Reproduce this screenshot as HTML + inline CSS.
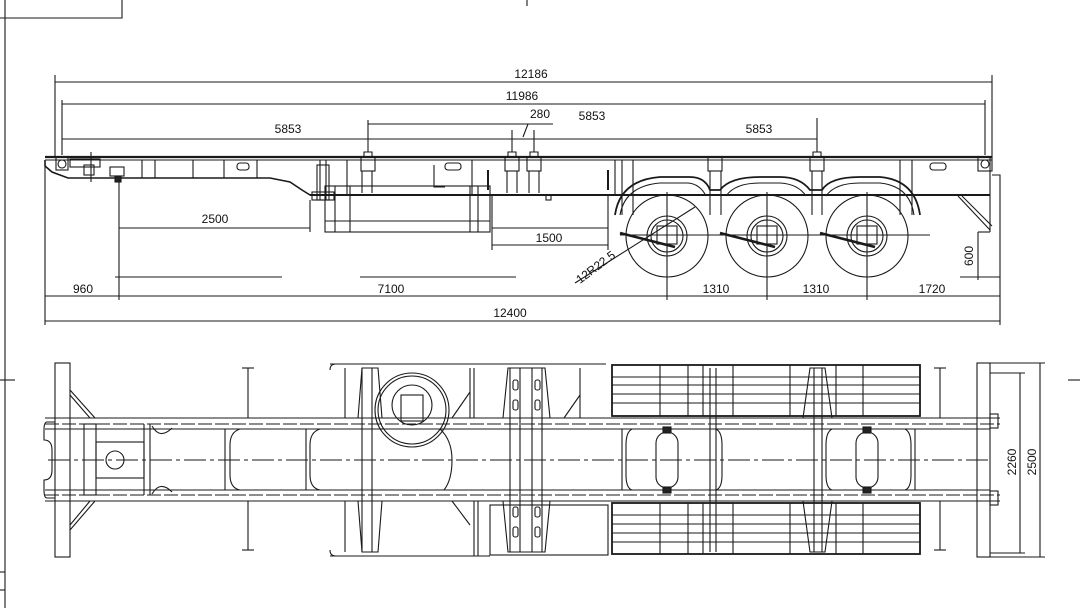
<!DOCTYPE html>
<html><head><meta charset="utf-8"><style>
html,body{margin:0;padding:0;background:#fff;}
svg{display:block}
text{font-family:"Liberation Sans",sans-serif;font-size:12px;fill:#111}
</style></head><body>
<svg width="1080" height="608" viewBox="0 0 1080 608" xmlns="http://www.w3.org/2000/svg">
<g stroke="#1a1a1a" fill="none" stroke-width="1.1">
<line x1="5" y1="0" x2="5" y2="608"/>
<polyline points="0,18 122,18 122,0"/>
<line x1="527" y1="0" x2="527" y2="6"/>
<line x1="0" y1="380" x2="15" y2="380"/>
<line x1="1068" y1="380" x2="1080" y2="380"/>
<polyline points="0,572 5,572"/><polyline points="0,590 5,590"/>

<line x1="55" y1="82" x2="992" y2="82"/>
<line x1="55" y1="75" x2="55" y2="158"/>
<line x1="992" y1="75" x2="992" y2="158"/>
<line x1="62" y1="104" x2="985" y2="104"/>
<line x1="62" y1="100" x2="62" y2="155"/>
<line x1="985" y1="100" x2="985" y2="155"/>
<line x1="368" y1="124" x2="528" y2="124"/>
<line x1="528" y1="124" x2="553" y2="124"/>
<line x1="528" y1="124" x2="523" y2="137"/>
<line x1="368" y1="120" x2="368" y2="152"/>
<line x1="512" y1="130" x2="512" y2="152"/>
<line x1="534" y1="130" x2="534" y2="152"/>
<line x1="62" y1="139" x2="817" y2="139"/>
<line x1="817" y1="118" x2="817" y2="152"/>

<line x1="45" y1="157" x2="992" y2="157" stroke-width="2.2"/>
<line x1="45" y1="160" x2="992" y2="160"/>
<polyline points="45,160 45,166 52,172 68,178 270,178 290,182 302,190 310,195 625,195" stroke-width="1.6"/>
<line x1="310" y1="195" x2="990" y2="195" stroke-width="2"/>
<line x1="45" y1="166" x2="45" y2="300"/>
<rect x="56" y="157" width="12" height="13"/><circle cx="62" cy="164" r="4"/>
<rect x="70" y="159" width="30" height="8"/>
<rect x="84" y="165" width="10" height="10"/>
<line x1="91" y1="152" x2="91" y2="182"/>
<rect x="110" y="167" width="14" height="9"/>
<rect x="115" y="176" width="6" height="6" fill="#222"/>
<line x1="142" y1="160" x2="142" y2="178"/>
<line x1="155" y1="160" x2="155" y2="178"/>
<line x1="193" y1="160" x2="193" y2="178"/>
<line x1="224" y1="160" x2="224" y2="178"/>
<line x1="257" y1="160" x2="257" y2="178"/>
<rect x="237" y="163" width="12" height="7" rx="3"/>
<rect x="317" y="165" width="12" height="35"/>
<rect x="312" y="192" width="22" height="8"/>
<line x1="320" y1="160" x2="320" y2="200"/><line x1="326" y1="160" x2="326" y2="200"/>
<rect x="325" y="186" width="165" height="46"/>
<line x1="325" y1="221" x2="490" y2="221"/>
<line x1="335" y1="186" x2="335" y2="232"/><line x1="350" y1="186" x2="350" y2="232"/>
<line x1="470" y1="186" x2="470" y2="232"/><line x1="478" y1="186" x2="478" y2="232"/>
<line x1="490" y1="195" x2="608" y2="195"/>
<line x1="347" y1="160" x2="347" y2="195"/><line x1="472" y1="160" x2="472" y2="195"/>
<line x1="615" y1="160" x2="615" y2="195"/>
<rect x="445" y="163" width="16" height="7" rx="3"/>
<polyline points="434,165 434,187 445,187"/>
<g>
<rect x="361" y="157" width="14" height="14"/><path d="M364,157 v-5 h8 v5"/><line x1="362" y1="171" x2="362" y2="193"/><line x1="372" y1="171" x2="372" y2="193"/>
<rect x="505" y="157" width="14" height="14"/><path d="M508,157 v-5 h8 v5"/><line x1="507" y1="171" x2="507" y2="193"/><line x1="517" y1="171" x2="517" y2="193"/>
<rect x="527" y="157" width="14" height="14"/><path d="M530,157 v-5 h8 v5"/><line x1="529" y1="171" x2="529" y2="193"/><line x1="539" y1="171" x2="539" y2="193"/>
<rect x="810" y="157" width="14" height="14"/><path d="M813,157 v-5 h8 v5"/><line x1="812" y1="171" x2="812" y2="215"/><line x1="822" y1="171" x2="822" y2="215"/>
<rect x="978" y="157" width="14" height="14"/><circle cx="985" cy="164" r="4"/>
<rect x="708" y="157" width="14" height="14"/><line x1="710" y1="171" x2="710" y2="215"/><line x1="721" y1="171" x2="721" y2="215"/>
</g>
<line x1="488" y1="170" x2="488" y2="190" stroke-width="2"/>
<line x1="608" y1="170" x2="608" y2="190" stroke-width="2"/>
<rect x="546" y="195" width="5" height="5"/>
<line x1="119" y1="228" x2="310" y2="228"/>
<line x1="119" y1="180" x2="119" y2="300"/>
<line x1="310" y1="200" x2="310" y2="232"/>
<line x1="492" y1="228" x2="608" y2="228"/>
<line x1="492" y1="245" x2="608" y2="245"/>
<line x1="492" y1="195" x2="492" y2="250"/>
<line x1="608" y1="195" x2="608" y2="250"/>
<line x1="115" y1="277" x2="282" y2="277"/>
<line x1="360" y1="277" x2="516" y2="277"/>
<path d="M615,215 Q620,180 660,177 L690,177 Q705,177 710,190 L720,190 Q730,177 760,177 L780,177 Q800,177 810,190 L822,190 Q830,177 860,177 L880,177 Q915,180 920,215" stroke-width="1.8"/>
<path d="M620,215 Q625,186 660,183 L688,183 Q700,184 706,196 M726,196 Q735,183 760,183 L780,183 Q798,184 806,196 M826,196 Q835,183 860,183 L880,183 Q910,186 914,215"/>
<line x1="622" y1="160" x2="622" y2="215"/><line x1="633" y1="160" x2="633" y2="215"/>
<line x1="900" y1="160" x2="900" y2="215"/><line x1="912" y1="160" x2="912" y2="215"/>
<circle cx="667" cy="236" r="41"/><circle cx="667" cy="236" r="20"/><circle cx="667" cy="236" r="16"/><rect x="657" y="226" width="20" height="18"/>
<circle cx="767" cy="236" r="41"/><circle cx="767" cy="236" r="20"/><circle cx="767" cy="236" r="16"/><rect x="757" y="226" width="20" height="18"/>
<circle cx="867" cy="236" r="41"/><circle cx="867" cy="236" r="20"/><circle cx="867" cy="236" r="16"/><rect x="857" y="226" width="20" height="18"/>
<line x1="620" y1="235" x2="930" y2="235"/>
<g stroke-width="2.5"><line x1="620" y1="233" x2="675" y2="247"/><line x1="720" y1="233" x2="775" y2="247"/><line x1="820" y1="233" x2="875" y2="247"/></g>
<line x1="667" y1="192" x2="667" y2="300"/><line x1="767" y1="192" x2="767" y2="300"/><line x1="867" y1="192" x2="867" y2="300"/>
<line x1="575" y1="283" x2="695" y2="207"/>
<line x1="990" y1="157" x2="990" y2="232"/>
<polyline points="992,175 1000,175 1000,325"/>
<line x1="958" y1="196" x2="990" y2="230"/><line x1="962" y1="196" x2="992" y2="226"/>
<rect x="930" y="163" width="16" height="7" rx="3"/>
<line x1="978" y1="232" x2="990" y2="232"/>
<line x1="978" y1="232" x2="978" y2="280"/>
<line x1="960" y1="277" x2="1000" y2="277"/>
<line x1="45" y1="296" x2="1000" y2="296"/>
<line x1="45" y1="321" x2="1000" y2="321"/>
<line x1="45" y1="300" x2="45" y2="325"/>

<rect x="55" y="363" width="15" height="194"/>
<line x1="45" y1="418" x2="1000" y2="418"/>
<line x1="45" y1="424" x2="1000" y2="424" stroke-dasharray="14 3"/>
<line x1="45" y1="429" x2="990" y2="429"/>
<line x1="45" y1="490" x2="990" y2="490"/>
<line x1="45" y1="495" x2="1000" y2="495" stroke-dasharray="14 3"/>
<line x1="45" y1="501" x2="1000" y2="501"/>
<line x1="48" y1="460" x2="990" y2="460" stroke-dasharray="22 4 4 4"/>
<path d="M55,422 h-8 q-3,0 -3,8 v10 q8,0 8,10 v20 q0,10 -8,10 v10 q0,8 3,8 h8"/>
<path d="M70,390 L95,418 M70,530 L95,501 M70,395 L90,418 M70,525 L90,501"/>
<rect x="84" y="424" width="12" height="71"/>
<rect x="96" y="442" width="48" height="36"/>
<circle cx="115" cy="460" r="9"/>
<line x1="144" y1="424" x2="144" y2="495"/><line x1="150" y1="424" x2="150" y2="495"/>
<path d="M152,426 Q160,440 172,428 M152,494 Q160,480 172,492"/>
<line x1="225" y1="429" x2="225" y2="490"/>
<path d="M240,429 Q230,432 230,445 L230,475 Q230,488 240,490"/>
<line x1="306" y1="429" x2="306" y2="490"/>
<path d="M320,429 Q310,432 310,445 L310,475 Q310,488 320,490"/>
<line x1="248" y1="368" x2="248" y2="418"/><line x1="242" y1="368" x2="254" y2="368"/>
<line x1="248" y1="501" x2="248" y2="550"/><line x1="242" y1="550" x2="254" y2="550"/>
<line x1="940" y1="368" x2="940" y2="418"/><line x1="934" y1="368" x2="946" y2="368"/>
<line x1="940" y1="501" x2="940" y2="550"/><line x1="934" y1="550" x2="946" y2="550"/>
<line x1="330" y1="364" x2="606" y2="364"/>
<line x1="330" y1="556" x2="490" y2="556"/>
<path d="M330,370 q0,-6 6,-6 M330,550 q0,6 6,6"/>
<line x1="345" y1="368" x2="345" y2="418"/><line x1="345" y1="501" x2="345" y2="552"/>
<path d="M358,418 L362,368 L378,368 L382,418 M358,501 L362,552 L378,552 L382,501"/>
<line x1="362" y1="368" x2="362" y2="552"/><line x1="372" y1="368" x2="372" y2="552"/>
<circle cx="412" cy="410" r="37"/><circle cx="412" cy="410" r="34"/>
<circle cx="412" cy="405" r="20"/><rect x="401" y="395" width="22" height="26"/>
<line x1="470" y1="368" x2="470" y2="418"/><line x1="474" y1="368" x2="474" y2="418"/>
<line x1="452" y1="418" x2="470" y2="392"/>
<line x1="452" y1="501" x2="470" y2="525"/>
<line x1="474" y1="501" x2="474" y2="556"/><line x1="478" y1="501" x2="478" y2="556"/>
<path d="M440,429 Q452,440 452,460 Q452,480 444,490"/>
<path d="M503,418 L508,368 L545,368 L550,418 M503,501 L508,552 L545,552 L550,501"/>
<line x1="510" y1="368" x2="510" y2="552"/><line x1="520" y1="368" x2="520" y2="552"/>
<line x1="532" y1="368" x2="532" y2="552"/><line x1="542" y1="368" x2="542" y2="552"/>
<rect x="513" y="380" width="5" height="10" rx="2"/><rect x="535" y="380" width="5" height="10" rx="2"/>
<rect x="513" y="400" width="5" height="10" rx="2"/><rect x="535" y="400" width="5" height="10" rx="2"/>
<rect x="513" y="507" width="5" height="10" rx="2"/><rect x="535" y="507" width="5" height="10" rx="2"/>
<rect x="513" y="527" width="5" height="10" rx="2"/><rect x="535" y="527" width="5" height="10" rx="2"/>
<line x1="580" y1="368" x2="580" y2="418"/><line x1="564" y1="418" x2="580" y2="395"/>
<rect x="490" y="505" width="118" height="50"/>
<g stroke-width="1.8">
<rect x="612" y="365" width="308" height="51"/><rect x="612" y="503" width="308" height="51"/>
</g>
<g>
<line x1="612" y1="377" x2="920" y2="377"/><line x1="612" y1="385" x2="920" y2="385"/><line x1="612" y1="394" x2="920" y2="394"/><line x1="612" y1="403" x2="920" y2="403"/>
<line x1="612" y1="515" x2="920" y2="515"/><line x1="612" y1="524" x2="920" y2="524"/><line x1="612" y1="533" x2="920" y2="533"/><line x1="612" y1="542" x2="920" y2="542"/>
<line x1="660" y1="365" x2="660" y2="416"/><line x1="688" y1="365" x2="688" y2="416"/><line x1="703" y1="365" x2="703" y2="416"/><line x1="733" y1="365" x2="733" y2="416"/><line x1="790" y1="365" x2="790" y2="416"/><line x1="836" y1="365" x2="836" y2="416"/><line x1="863" y1="365" x2="863" y2="416"/>
<line x1="660" y1="503" x2="660" y2="554"/><line x1="688" y1="503" x2="688" y2="554"/><line x1="703" y1="503" x2="703" y2="554"/><line x1="733" y1="503" x2="733" y2="554"/><line x1="790" y1="503" x2="790" y2="554"/><line x1="836" y1="503" x2="836" y2="554"/><line x1="863" y1="503" x2="863" y2="554"/>
</g>
<line x1="710" y1="368" x2="710" y2="552"/><line x1="716" y1="368" x2="716" y2="552"/>
<path d="M803,418 L810,368 L825,368 L832,418 M803,501 L810,552 L825,552 L832,501"/>
<line x1="814" y1="368" x2="814" y2="552"/><line x1="822" y1="368" x2="822" y2="552"/>
<line x1="622" y1="429" x2="622" y2="490"/>
<path d="M632,429 Q626,432 626,445 L626,475 Q626,488 632,490 M716,429 Q722,432 722,445 L722,475 Q722,488 716,490"/>
<path d="M905,429 Q911,432 911,445 L911,475 Q911,488 905,490 M832,429 Q826,432 826,445 L826,475 Q826,488 832,490"/>
<line x1="915" y1="429" x2="915" y2="490"/>
<rect x="656" y="432" width="22" height="56" rx="11"/>
<rect x="856" y="432" width="22" height="56" rx="11"/>
<rect x="663" y="427" width="8" height="6" fill="#222"/><rect x="663" y="487" width="8" height="6" fill="#222"/>
<rect x="863" y="427" width="8" height="6" fill="#222"/><rect x="863" y="487" width="8" height="6" fill="#222"/>
<rect x="977" y="363" width="13" height="194"/>
<rect x="990" y="414" width="8" height="14"/><rect x="990" y="491" width="8" height="14"/>
<line x1="990" y1="373" x2="1025" y2="373"/><line x1="990" y1="553" x2="1025" y2="553"/>
<line x1="1020" y1="373" x2="1020" y2="553"/>
<line x1="990" y1="363" x2="1045" y2="363"/><line x1="990" y1="557" x2="1045" y2="557"/>
<line x1="1040" y1="363" x2="1040" y2="557"/>
</g>
<text x="531" y="78" text-anchor="middle">12186</text>
<text x="522" y="100" text-anchor="middle">11986</text>
<text x="540" y="118" text-anchor="middle">280</text>
<text x="592" y="120" text-anchor="middle">5853</text>
<text x="288" y="133" text-anchor="middle">5853</text>
<text x="759" y="133" text-anchor="middle">5853</text>
<text x="215" y="223" text-anchor="middle">2500</text>
<text x="549" y="242" text-anchor="middle">1500</text>
<text x="83" y="293" text-anchor="middle">960</text>
<text x="391" y="293" text-anchor="middle">7100</text>
<text x="716" y="293" text-anchor="middle">1310</text>
<text x="816" y="293" text-anchor="middle">1310</text>
<text x="932" y="293" text-anchor="middle">1720</text>
<text x="510" y="317" text-anchor="middle">12400</text>
<text transform="translate(580,284) rotate(-37)">12R22.5</text>
<text transform="translate(973,256) rotate(-90)" text-anchor="middle">600</text>
<text transform="translate(1016,462) rotate(-90)" text-anchor="middle">2260</text>
<text transform="translate(1036,462) rotate(-90)" text-anchor="middle">2500</text>
</svg>
</body></html>
